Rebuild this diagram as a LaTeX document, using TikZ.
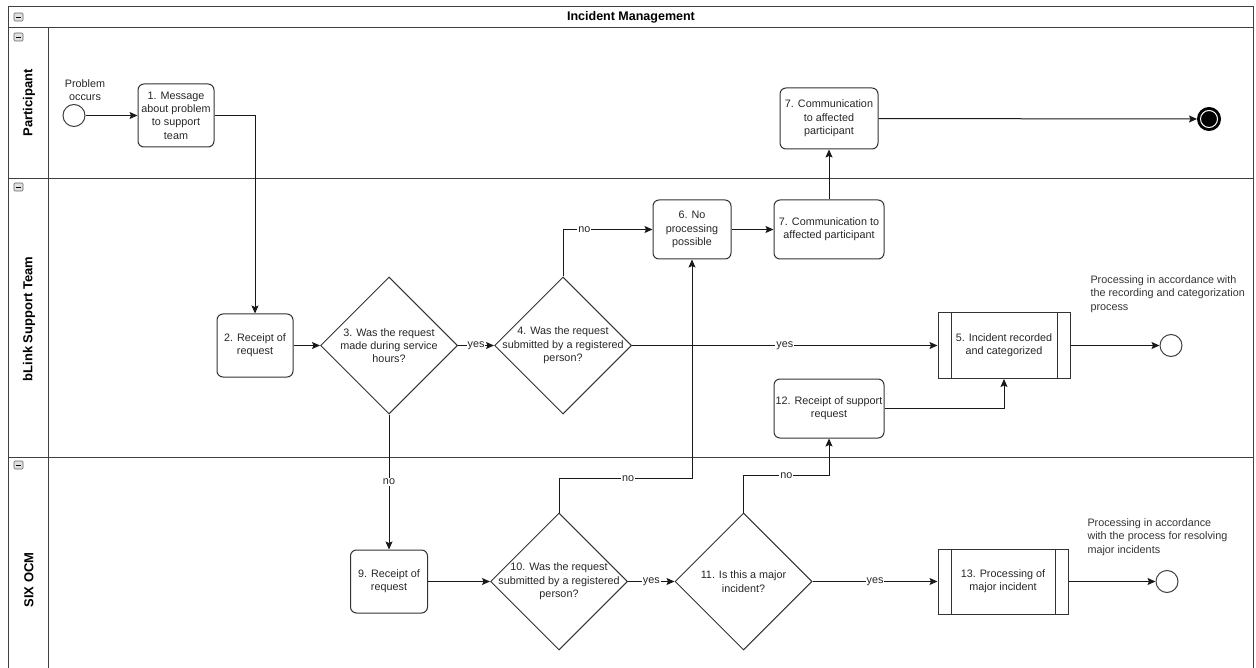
\documentclass[tikz,border=0pt]{standalone}
\usepackage{fontspec}
\setmainfont{Liberation Sans}
\usetikzlibrary{shapes.geometric,arrows.meta}

\begin{document}
\begin{tikzpicture}[x=1pt,y=-1pt,
    every node/.style={font=\fontsize{10.8}{13.3}\selectfont, text=black!85},
    pool/.style={draw=black!75, line width=1pt},
    task/.style={draw=black!80, line width=1pt, rounded corners=6pt, align=center, inner sep=1pt},
    subproc/.style={draw=black!80, line width=1pt, align=center, inner sep=1pt,
      path picture={
        \draw[black!80, line width=1pt] ([xshift=13pt]path picture bounding box.north west) -- ([xshift=13pt]path picture bounding box.south west);
        \draw[black!80, line width=1pt] ([xshift=-13pt]path picture bounding box.north east) -- ([xshift=-13pt]path picture bounding box.south east);}},
    decision/.style={diamond, draw=black!80, line width=1pt, minimum width=137pt, minimum height=137pt, inner sep=0pt},
    ev/.style={circle, draw=black!75, line width=1pt, minimum size=22pt, inner sep=0pt},
    endev/.style={circle, draw=black, fill=black, line width=1pt, minimum size=23pt, inner sep=0pt,
      path picture={\draw[white, line width=1pt] (path picture bounding box.center) circle (8.5pt);}},
    lane/.style={font=\fontsize{13}{15}\selectfont\bfseries, text=black, rotate=90},
    lbl/.style={fill=white, inner sep=1pt},
    note/.style={align=left, anchor=west, text=black!80},
    flow/.style={-{Stealth[length=8pt,width=7pt,inset=1.5pt]}, line width=1pt, draw=black!90}
  ]
  \useasboundingbox (0,0) rectangle (1256,668);

  % pool and lanes
  \draw[pool] (8,670) -- (8,7) -- (1253,7) -- (1253,670);
  \draw[pool] (8,28) -- (1253,28);
  \draw[pool] (48,28) -- (48,670);
  \draw[pool] (8,179) -- (1253,179);
  \draw[pool] (8,457) -- (1253,457);
  \foreach \y in {17,37,187,465} {
    \draw[rounded corners=1pt, fill=black!12, draw=black!60, line width=0.6pt] (14,\y-4) rectangle (23,\y+4);
    \draw[line width=0.8pt] (16,\y) -- (21,\y);
  }
  \node[font=\fontsize{12.5}{15}\selectfont\bfseries, text=black] (title) at (631,17) {Incident Management};
  \node[lane] (lp) at (29,103) {Participant};
  \node[lane] (lb) at (29,319) {bLink Support Team};
  \node[lane] (ls) at (29,580) {SIX OCM};

  % participant
  \node[ev] (s1) at (74,115.5) {};
  \node[align=center] (s1txt) at (85,90) {Problem\\occurs};
  \node[task, minimum width=76pt, minimum height=63pt] (t1) at (176,115.5) {1. Message\\about problem\\to support\\team};
  \node[task, minimum width=98pt, minimum height=61pt] (t7a) at (829,118.5) {7. Communication\\to affected\\participant};
  \node[endev] (e1) at (1209,119) {};

  % bLink support team
  \node[task, minimum width=76pt, minimum height=63pt] (t2) at (255,345.5) {2. Receipt of\\request};
  \node[decision, label={[align=center]center:{3. Was the request\\made during service\\hours?}}] (q3) at (389,345.5) {};
  \node[decision, label={[align=center]center:{4. Was the request\\submitted by a registered\\person?}}] (q4) at (563,345.5) {};
  \node[task, minimum width=78pt, minimum height=59pt] (t6) at (692,229.5) {6. No\\processing\\possible};
  \node[task, minimum width=110pt, minimum height=59pt] (t7b) at (829,229.5) {7. Communication to\\affected participant};
  \node[subproc, minimum width=132pt, minimum height=66pt] (t5) at (1004,345.5) {5. Incident recorded\\and categorized};
  \node[ev] (e2) at (1171,345.5) {};
  \node[note] (n2) at (1087,294) {Processing in accordance with\\the recording and categorization\\process};
  \node[task, minimum width=110pt, minimum height=59pt] (t12) at (829,408.5) {12. Receipt of support\\request};

  % SIX OCM
  \node[task, minimum width=77pt, minimum height=63pt] (t9) at (389,581.5) {9. Receipt of\\request};
  \node[decision, label={[align=center]center:{10. Was the request\\submitted by a registered\\person?}}] (q10) at (559,581.5) {};
  \node[decision, label={[align=center]center:{11. Is this a major\\incident?}}] (q11) at (743.5,581.5) {};
  \node[subproc, minimum width=130pt, minimum height=65pt] (t13) at (1003,581.5) {13. Processing of\\major incident};
  \node[ev] (e3) at (1167,581.5) {};
  \node[note] (n3) at (1084,537) {Processing in accordance\\with the process for resolving\\major incidents};

  % flows
  \draw[flow] (s1) -- (t1);
  \draw[flow] (t1) -| (t2);
  \draw[flow] (t2) -- (q3);
  \draw[flow] (q3) -- node[lbl] {yes} (q4);
  \draw[flow] (q4) |- node[lbl, pos=0.62] {no} (t6);
  \draw[flow] (t6) -- (t7b);
  \draw[flow] (t7b) -- (t7a);
  \draw[flow] (t7a) -- (e1);
  \draw[flow] (q4) -- node[lbl] {yes} (t5);
  \draw[flow] (t5) -- (e2);
  \draw[flow] (t12) -| (t5);
  \draw[flow] (q3) -- node[lbl] {no} (t9);
  \draw[flow] (t9) -- (q10);
  \draw[flow] (q10) -- node[lbl] {yes} (q11);
  \draw[flow] (q10.north) -- ++(0,-34) -| node[lbl, pos=0.26] {no} (t6.south);
  \draw[flow] (q11.north) -- ++(0,-37) -| node[lbl, pos=0.25] {no} (t12.south);
  \draw[flow] (q11) -- node[lbl] {yes} (t13);
  \draw[flow] (t13) -- (e3);
\end{tikzpicture}
\end{document}
